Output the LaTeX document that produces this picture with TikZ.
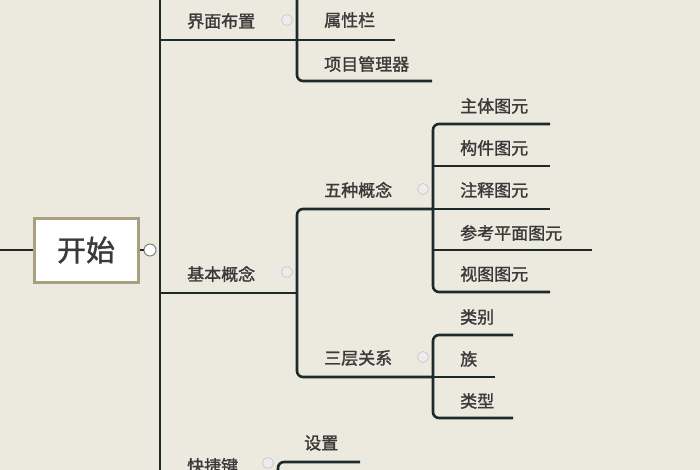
\documentclass[tikz,border=0pt]{standalone}
\usepackage{fontspec}
\setmainfont{Noto Sans CJK SC}[FakeBold=1.5]
\begin{document}
\begin{tikzpicture}[x=1pt,y=-1pt,
  ln/.style={draw=lnc,line width=2.6pt,rounded corners=6pt},
  lbl/.style={anchor=west,inner sep=0pt,text=txc,font=\fontsize{17}{17}\selectfont},
  tog/.style={circle,draw=gray!40,fill=white!85!gray,minimum size=11pt,inner sep=0pt,line width=0.8pt}]
\definecolor{bg}{HTML}{ECE9DF}
\definecolor{lnc}{HTML}{1C2A2A}
\definecolor{txc}{HTML}{3A3A3A}
\definecolor{bd}{HTML}{A8A080}
\fill[bg] (0,0) rectangle (700,470);
\useasboundingbox (0,0) rectangle (700,470);
\coordinate (L0) at (0,250);
\node[draw=bd,line width=3pt,fill=white,minimum width=104pt,minimum height=64pt,font=\fontsize{29}{29}\selectfont,text=txc] (root) at (86,250) {开始};
\draw[ln] (L0) -- (root.west);
\node[circle,draw=gray,fill=white,minimum size=12pt,inner sep=0pt,line width=1pt] (rt) at (150,250) {};
\draw[ln] (root.east) -- (rt);
\coordinate (top) at (160,0);
\coordinate (bot) at (160,470);
\draw[ln] (top) -- (bot);
% branch 1
\node[lbl] (b1) at (187,21) {界面布置};
\node[tog] (t1) at (287,20) {};
\coordinate (b1s) at (160,40);
\coordinate (b1e) at (297,40);
\draw[ln] (b1s) -- (b1e);
\coordinate (v1t) at (297,0);
\coordinate (v1b) at (297,81);
\coordinate (c12e) at (432,81);
\draw[ln] (v1t) -- (v1b) -- (c12e);
\node[lbl] (c11) at (324,20) {属性栏};
\coordinate (c11e) at (395,40);
\draw[ln] (b1e) -- (c11e);
\node[lbl] (c12) at (324,64) {项目管理器};
% branch 2
\node[lbl] (b2) at (187,274) {基本概念};
\node[tog] (t2) at (287,272) {};
\coordinate (b2s) at (160,293);
\coordinate (b2e) at (297,293);
\draw[ln] (b2s) -- (b2e);
\coordinate (v2t) at (297,209);
\coordinate (v2b) at (297,377);
\coordinate (w5) at (433,209);
\coordinate (w3) at (433,377);
\draw[ln] (w5) -- (v2t) -- (v2b) -- (w3);
\node[lbl] (f5) at (324,190) {五种概念};
\node[tog] (t5) at (423,189) {};
\node[lbl] (f3) at (324,358) {三层关系};
\node[tog] (t3) at (423,357) {};
% five
\coordinate (v5t) at (433,124);
\coordinate (v5b) at (433,292);
\coordinate (e1) at (550,124);
\coordinate (e5) at (550,292);
\draw[ln] (e1) -- (v5t) -- (v5b) -- (e5);
\coordinate (e2s) at (433,166); \coordinate (e2) at (550,166);
\coordinate (e3) at (550,209);
\coordinate (e4s) at (433,250); \coordinate (e4) at (592,250);
\draw[ln] (e2s) -- (e2);
\draw[ln] (w5) -- (e3);
\draw[ln] (e4s) -- (e4);
\node[lbl] (g1) at (460,106) {主体图元};
\node[lbl] (g2) at (460,148) {构件图元};
\node[lbl] (g3) at (460,190) {注释图元};
\node[lbl] (g4) at (460,233) {参考平面图元};
\node[lbl] (g5) at (460,274) {视图图元};
% three
\coordinate (v3t) at (433,335);
\coordinate (v3b) at (433,418);
\coordinate (h1) at (513,335);
\coordinate (h3) at (513,418);
\coordinate (h2) at (495,377);
\draw[ln] (h1) -- (v3t) -- (v3b) -- (h3);
\draw[ln] (w3) -- (h2);
\node[lbl] (k1) at (460,317) {类别};
\node[lbl] (k2) at (460,359) {族};
\node[lbl] (k3) at (460,401) {类型};
% branch 3
\node[lbl] (b3) at (187,466) {快捷键};
\node[tog] (t6) at (268,463) {};
\coordinate (s0) at (278,475);
\coordinate (s1) at (278,462);
\coordinate (s2) at (360,462);
\draw[ln] (s0) -- (s1) -- (s2);
\node[lbl] (q1) at (304,443) {设置};
\end{tikzpicture}
\end{document}
